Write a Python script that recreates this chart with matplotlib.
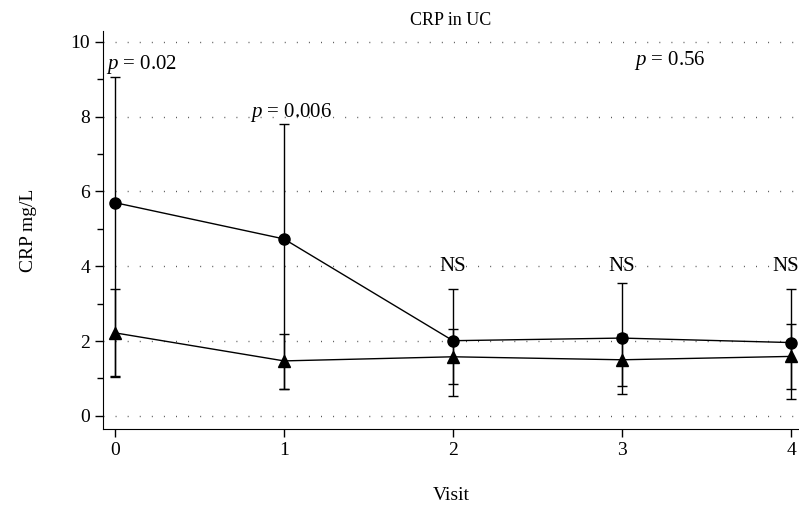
import matplotlib
matplotlib.use('Agg')
import matplotlib.pyplot as plt
from matplotlib.ticker import MultipleLocator

# data
visits = [0, 1, 2, 3, 4]
crp_circle = [5.70, 4.73, 2.01, 2.08, 1.96]
circle_upper = [9.05, 7.80, 3.39, 3.55, 3.39]
circle_lower = [1.05, 0.73, 0.52, 0.58, 0.45]
crp_triangle = [2.22, 1.47, 1.58, 1.50, 1.59]
triangle_upper = [3.38, 2.20, 2.32, 2.19, 2.46]
triangle_lower = [1.06, 0.73, 0.84, 0.81, 0.72]
ns_visits = [2, 3]

plt.rcParams['font.family'] = ['Liberation Serif', 'DejaVu Serif']
plt.rcParams['mathtext.fontset'] = 'custom'
plt.rcParams['mathtext.rm'] = 'Liberation Serif'
plt.rcParams['mathtext.it'] = 'Liberation Serif:italic'

fig = plt.figure(figsize=(7.99, 5.15), dpi=100)
ax = fig.add_axes([0.129, 0.167, 0.871, 0.773])

c_err = [[m - lo for m, lo in zip(crp_circle, circle_lower)],
         [hi - m for m, hi in zip(crp_circle, circle_upper)]]
t_err = [[m - lo for m, lo in zip(crp_triangle, triangle_lower)],
         [hi - m for m, hi in zip(crp_triangle, triangle_upper)]]

ax.errorbar(visits, crp_circle, yerr=c_err, color='black', marker='o',
            markersize=8, linewidth=1, elinewidth=1, capsize=3.6, capthick=1,
            clip_on=False, zorder=3)
ax.errorbar(visits, crp_triangle, yerr=t_err, color='black', marker='^',
            markersize=8, linewidth=1, elinewidth=1, capsize=3.6, capthick=1,
            clip_on=False, zorder=3)

ax.set_xlim(-0.07, 4.047)
ax.set_ylim(-0.35, 10.29)
ax.set_xticks(visits)
ax.yaxis.set_major_locator(MultipleLocator(2))
ax.yaxis.set_minor_locator(MultipleLocator(1))
ax.tick_params(axis='both', which='major', labelsize=14, length=6, width=1)
ax.tick_params(axis='y', which='minor', length=4, width=1)
ax.spines['top'].set_visible(False)
ax.spines['right'].set_visible(False)

ax.grid(axis='y', which='major', color='#555555', linewidth=1,
        linestyle=(0, (0.7, 8)))
ax.set_axisbelow(True)

ax.set_title('CRP in UC', fontsize=13, pad=4)
ax.set_xlabel('Visit', fontsize=14, labelpad=20)
ax.set_ylabel('CRP mg/L', fontsize=14, labelpad=24)

ax.text(-0.05, 9.4, r'$p$ = 0.02', fontsize=15, ha='left', va='center')
ax.text(0.8, 8.1, r'$p$ = 0.006', fontsize=15, ha='left', va='center')
ax.text(3.07, 9.5, r'$p$ = 0.56', fontsize=15, ha='left', va='center')
for v in ns_visits:
    ax.text(v, 3.98, 'NS', fontsize=15, ha='center', va='center')
ax.text(4.047, 3.98, 'NS', fontsize=15, ha='right', va='center')

fig.savefig('out.png', dpi=100)
